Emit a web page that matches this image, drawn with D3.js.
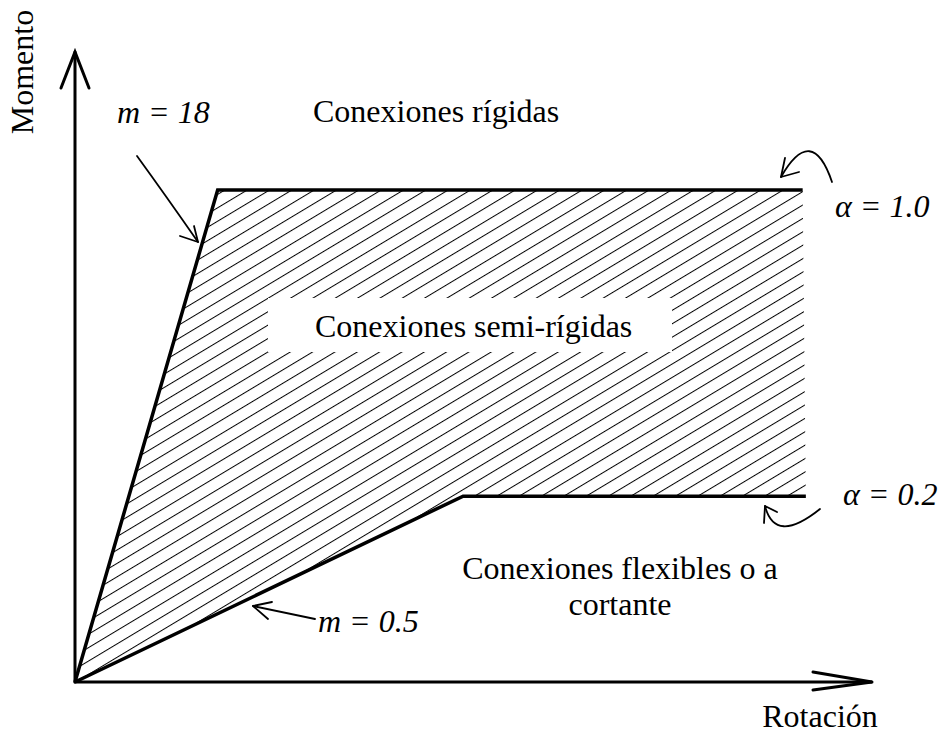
<!DOCTYPE html>
<html>
<head>
<meta charset="utf-8">
<script src="https://cdn.jsdelivr.net/npm/d3@7"></script>
<style>
  body { margin: 0; background: #fff; }
  text { font-family: "Liberation Serif", "Times New Roman", serif; font-size: 32px; fill: #000; }
  .it { font-style: italic; }
</style>
</head>
<body>
<svg id="chart" width="942" height="733"></svg>
<script>
// bounds of semi-rigid zone (rotation, moment) in arbitrary units
const rigidBound = [[0, 0], [1.79, 7.81], [9.13, 7.81]];
const flexBound = [[0, 0], [4.87, 2.95], [9.17, 2.95]];
const axisMax = [10, 10];

const labelsRegion = ["Conexiones rígidas", "Conexiones semi-rígidas", "Conexiones flexibles o a", "cortante"];
const labelsSlope = ["m = 18", "m = 0.5"];
const labelsAlpha = ["α = 1.0", "α = 0.2"];

const svg = d3.select("#chart");

const x = d3.scaleLinear().domain([0, axisMax[0]]).range([75, 872]);
const y = d3.scaleLinear().domain([0, axisMax[1]]).range([682, 52]);

const line = d3.line().x(d => x(d[0])).y(d => y(d[1]));

// hatch pattern
const defs = svg.append("defs");
const pat = defs.append("pattern")
  .attr("id", "hatch")
  .attr("patternUnits", "userSpaceOnUse")
  .attr("width", 20)
  .attr("height", 11.5)
  .attr("patternTransform", "translate(75,682) rotate(-31)");
pat.append("line")
  .attr("x1", 0).attr("y1", 0.5).attr("x2", 20).attr("y2", 0.5)
  .attr("stroke", "#000").attr("stroke-width", 1);

const region = rigidBound.concat(flexBound.slice().reverse());
svg.append("path")
  .attr("d", line(region) + "Z")
  .attr("fill", "url(#hatch)");

// white box behind middle label
svg.append("rect")
  .attr("x", 268).attr("y", 298)
  .attr("width", 404).attr("height", 54)
  .attr("fill", "#fff");

// boundary curves
svg.selectAll("path.bound")
  .data([rigidBound, flexBound])
  .join("path")
  .attr("class", "bound")
  .attr("d", line)
  .attr("fill", "none")
  .attr("stroke", "#000")
  .attr("stroke-width", 3.5)
  .attr("stroke-linejoin", "miter");

// axes with open arrowheads
const ax = svg.append("g").attr("fill", "none").attr("stroke", "#000")
  .attr("stroke-width", 3).attr("stroke-linecap", "round");
ax.append("path").attr("d", `M${x(0)},${y(0)}L${x(0)},${y(axisMax[1])}`);
ax.append("path").attr("d", `M${x(0)},${y(0)}L${x(axisMax[0])},${y(0)}`);
ax.append("path").attr("d", `M${x(0) - 14},${y(axisMax[1]) + 36}L${x(0)},${y(axisMax[1])}L${x(0) + 14},${y(axisMax[1]) + 36}`);
ax.append("path").attr("d", `M${x(axisMax[0]) - 59},${y(0) - 10}L${x(axisMax[0])},${y(0)}L${x(axisMax[0]) - 59},${y(0) + 8}`);

// axis titles
svg.append("text")
  .attr("transform", "translate(33,72) rotate(-90)")
  .attr("text-anchor", "middle")
  .text("Momento");
svg.append("text")
  .attr("x", 820).attr("y", 727)
  .attr("text-anchor", "middle")
  .text("Rotación");

// region labels
svg.append("text").attr("x", 313).attr("y", 122).text(labelsRegion[0]);
svg.append("text").attr("x", 315).attr("y", 337).text(labelsRegion[1]);
svg.append("text").attr("x", 620).attr("y", 579).attr("text-anchor", "middle").text(labelsRegion[2]);
svg.append("text").attr("x", 620).attr("y", 615).attr("text-anchor", "middle").text(labelsRegion[3]);

// slope and alpha labels
svg.append("text").attr("class", "it").attr("x", 117).attr("y", 123).text(labelsSlope[0]);
svg.append("text").attr("class", "it").attr("x", 318).attr("y", 632).text(labelsSlope[1]);
svg.append("text").attr("class", "it").attr("x", 835).attr("y", 217).text(labelsAlpha[0]);
svg.append("text").attr("class", "it").attr("x", 843).attr("y", 505).text(labelsAlpha[1]);

// annotation arrows
const ann = svg.append("g").attr("fill", "none").attr("stroke", "#000")
  .attr("stroke-width", 1.8).attr("stroke-linecap", "round").attr("stroke-linejoin", "round");
// m = 18
ann.append("path").attr("d", "M137,156Q166,196 198,242");
ann.append("path").attr("d", "M180,236L198,242L194,226");
// alpha = 1.0
ann.append("path").attr("d", "M832,182Q812,123 781,177");
ann.append("path").attr("d", "M785,158L781,177L799,172");
// alpha = 0.2
ann.append("path").attr("d", "M820,509Q775,545 765,506");
ann.append("path").attr("d", "M764,523L765,506L777,512");
// m = 0.5
ann.append("path").attr("d", "M315,619L253,606");
ann.append("path").attr("d", "M272,602L253,606L268,619");
</script>
</body>
</html>
